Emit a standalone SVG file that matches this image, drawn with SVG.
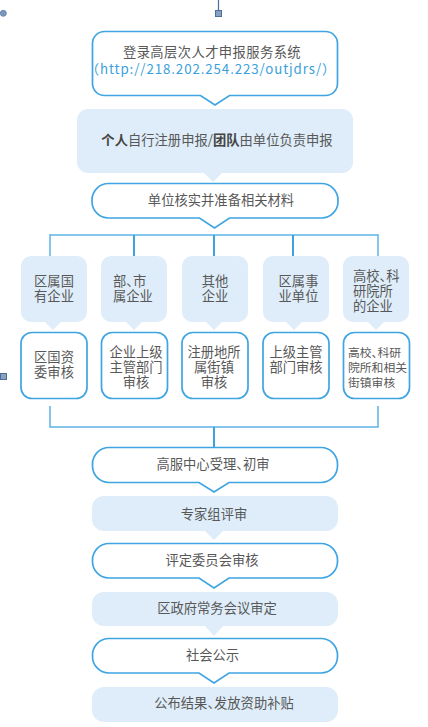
<svg xmlns="http://www.w3.org/2000/svg" width="428" height="727" viewBox="0 0 428 727">
<style>
  text { font-family: "Noto Sans CJK SC", "Noto Sans", sans-serif; font-size: 13.3px; fill: #585858; }
  .c { text-anchor: middle; }
  .url { fill: #3a9fdc; letter-spacing: 0.9px; }
  .b { font-weight: bold; fill: #444; }
  .p { font-feature-settings: "halt"; }
  .s { font-size: 11.8px; }
  .ol { fill: #fff; stroke: #3fa5e2; stroke-width: 1.7; }
  .fl { fill: #deedf9; stroke: none; }
  .ln { fill: none; stroke: #3ba4e0; stroke-width: 2; }
  .ln2 { fill: none; stroke: #5db3e6; stroke-width: 1.5; }
</style>

<!-- stray handles -->
<g id="handles">
  <line x1="218.5" y1="0" x2="218.5" y2="10" stroke="#4a6f9a" stroke-width="1.2"/>
  <rect x="215.5" y="10.5" width="6" height="6" fill="#8aa0c0" stroke="#4a6f9a" stroke-width="1"/>
  <circle cx="3.3" cy="13.3" r="3" fill="#7d98bd" stroke="#5a7aa5" stroke-width="0.8"/>
  <rect x="0.5" y="373.5" width="6" height="6" fill="#8aa0c0" stroke="#4a6f9a" stroke-width="1"/>
</g>

<g id="connectors">
  <line class="ln2" x1="50" y1="235" x2="378" y2="235"/>
  <line class="ln2" x1="50" y1="234.3" x2="50" y2="256"/>
  <line class="ln" x1="134" y1="235" x2="134" y2="256"/>
  <line class="ln" x1="214" y1="235" x2="214" y2="256"/>
  <line class="ln" x1="293" y1="235" x2="293" y2="256"/>
  <line class="ln2" x1="378" y1="234.3" x2="378" y2="256"/>
  <path class="ln2" d="M50 406 V427 H378 V406"/>
  <line class="ln" x1="214" y1="427" x2="214" y2="448"/>
</g>

<g id="n1">
  <path class="ol" d="M104.5 31.5 H325.5 A12 12 0 0 1 337.5 43.5 V83.5 A12 12 0 0 1 325.5 95.5 H229.5 L215 105 L200.5 95.5 H104.5 A12 12 0 0 1 92.5 83.5 V43.5 A12 12 0 0 1 104.5 31.5 Z"/>
  <text class="c" x="212" y="57" style="letter-spacing:0.4px">登录高层次人才申报服务系统</text>
  <text class="c url" x="211" y="73.5">（http://218.202.254.223/outjdrs/）</text>
</g>

<g id="n2">
  <rect class="fl" x="77" y="109" width="276" height="64" rx="11"/>
  <path class="fl" d="M203 172 L213 182 L223 172 Z"/>
  <text class="c" x="217" y="145"><tspan class="b">个人</tspan>自行注册申报/<tspan class="b">团队</tspan>由单位负责申报</text>
</g>

<g id="n3">
  <path class="ol" d="M108.5 183.5 H321.5 A16.5 16.5 0 0 1 338 200 V201.5 A16.5 16.5 0 0 1 321.5 218 H229.5 L214.5 228 L199.5 218 H108.5 A16.5 16.5 0 0 1 92 201.5 V200 A16.5 16.5 0 0 1 108.5 183.5 Z"/>
  <text class="c" x="221" y="205">单位核实并准备相关材料</text>
</g>

<!-- category boxes -->
<g id="c1">
  <rect class="fl" x="21" y="256" width="66" height="66" rx="10"/>
  <path class="fl" d="M44 321 L53 330 L62 321 Z"/>
  <text class="c" x="54" y="285.5">区属国</text>
  <text class="c" x="54" y="301">有企业</text>
</g>
<g id="c2">
  <rect class="fl" x="101" y="256" width="66" height="66" rx="10"/>
  <path class="fl" d="M125 321 L134 330 L143 321 Z"/>
  <text x="113" y="285.5">部<tspan class="p">、</tspan>市</text>
  <text x="113" y="301">属企业</text>
</g>
<g id="c3">
  <rect class="fl" x="182" y="256" width="66" height="66" rx="10"/>
  <path class="fl" d="M205 321 L214 330 L223 321 Z"/>
  <text class="c" x="215" y="285.5">其他</text>
  <text class="c" x="215" y="301">企业</text>
</g>
<g id="c4">
  <rect class="fl" x="263" y="256" width="66" height="66" rx="10"/>
  <path class="fl" d="M285 321 L294 330 L303 321 Z"/>
  <text class="c" x="298.5" y="285.5">区属事</text>
  <text class="c" x="298.5" y="301">业单位</text>
</g>
<g id="c5">
  <rect class="fl" x="343" y="256" width="66" height="66" rx="10"/>
  <path class="fl" d="M367 321 L376 330 L385 321 Z"/>
  <text x="353" y="281">高校<tspan class="p">、</tspan>科</text>
  <text x="353" y="296">研院所</text>
  <text x="353" y="310.5">的企业</text>
</g>

<!-- review boxes -->
<g id="r1">
  <rect class="ol" x="21" y="332.5" width="66" height="66" rx="11"/>
  <text class="c" x="54" y="361.5">区国资</text>
  <text class="c" x="54" y="377">委审核</text>
</g>
<g id="r2">
  <rect class="ol" x="101.5" y="332.5" width="66" height="66" rx="11"/>
  <text class="c" x="136" y="356.5">企业上级</text>
  <text class="c" x="136" y="372">主管部门</text>
  <text class="c" x="136" y="387">审核</text>
</g>
<g id="r3">
  <rect class="ol" x="182" y="332.5" width="66" height="66" rx="11"/>
  <text class="c" x="214" y="356.5">注册地所</text>
  <text class="c" x="214" y="372">属街镇</text>
  <text class="c" x="214" y="387">审核</text>
</g>
<g id="r4">
  <rect class="ol" x="263" y="332.5" width="66" height="66" rx="11"/>
  <text class="c" x="296" y="356.5">上级主管</text>
  <text class="c" x="296" y="372">部门审核</text>
</g>
<g id="r5">
  <rect class="ol" x="343.5" y="332.5" width="66" height="66" rx="11"/>
  <text class="s" x="348" y="356.5">高校<tspan class="p">、</tspan>科研</text>
  <text class="s" x="348" y="372">院所和相关</text>
  <text class="s" x="348" y="387">街镇审核</text>
</g>

<g id="n4">
  <path class="ol" d="M109 447.5 H321 A16.5 16.5 0 0 1 337.5 464 V466 A16.5 16.5 0 0 1 321 482.5 H229 L214 492 L199 482.5 H109 A16.5 16.5 0 0 1 92.5 466 V464 A16.5 16.5 0 0 1 109 447.5 Z"/>
  <text class="c" x="213" y="469">高服中心受理<tspan class="p">、</tspan>初审</text>
</g>

<g id="n5">
  <rect class="fl" x="92" y="496" width="246" height="35" rx="12"/>
  <path class="fl" d="M204 530 L214 540 L224 530 Z"/>
  <text class="c" x="214" y="518.5">专家组评审</text>
</g>

<g id="n6">
  <path class="ol" d="M109 543.5 H321 A16.5 16.5 0 0 1 337.5 560 V561.5 A16.5 16.5 0 0 1 321 578 H229 L214 588 L199 578 H109 A16.5 16.5 0 0 1 92.5 561.5 V560 A16.5 16.5 0 0 1 109 543.5 Z"/>
  <text class="c" x="212" y="565">评定委员会审核</text>
</g>

<g id="n7">
  <rect class="fl" x="92" y="592" width="246" height="34" rx="12"/>
  <path class="fl" d="M204 625 L214 636 L224 625 Z"/>
  <text class="c" x="217" y="612.5">区政府常务会议审定</text>
</g>

<g id="n8">
  <path class="ol" d="M109 638.5 H321 A16.5 16.5 0 0 1 337.5 655 V656.5 A16.5 16.5 0 0 1 321 673 H229 L214 683 L199 673 H109 A16.5 16.5 0 0 1 92.5 656.5 V655 A16.5 16.5 0 0 1 109 638.5 Z"/>
  <text class="c" x="212.5" y="659.5">社会公示</text>
</g>

<g id="n9">
  <rect class="fl" x="92" y="687" width="246" height="35" rx="12"/>
  <text class="c" x="224" y="707.5">公布结果<tspan class="p">、</tspan>发放资助补贴</text>
</g>
</svg>
